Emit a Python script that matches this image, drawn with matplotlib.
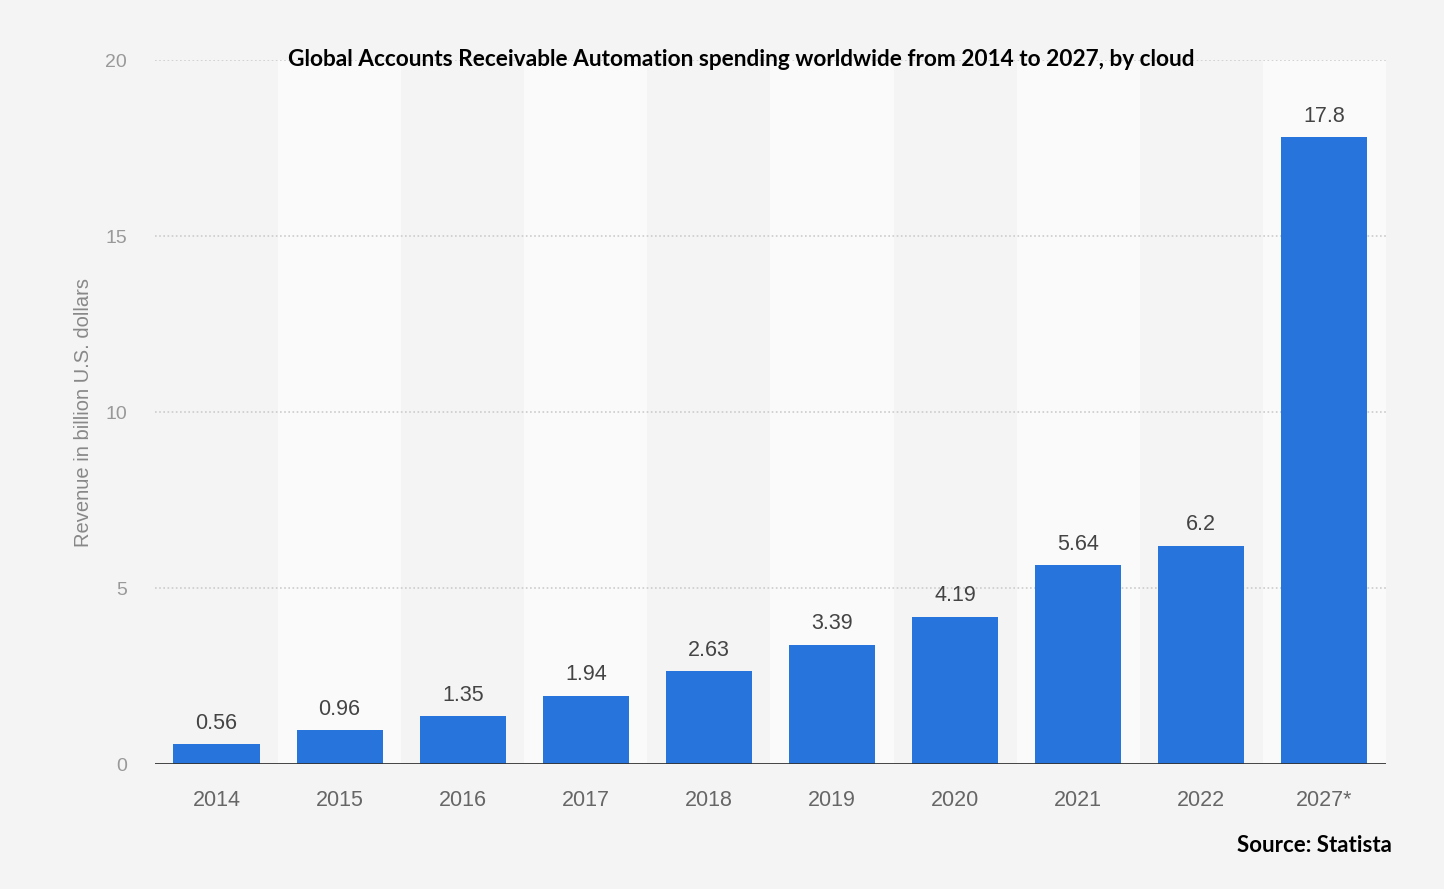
import matplotlib
matplotlib.use("Agg")
import matplotlib.pyplot as plt

# data
years = ["2014", "2015", "2016", "2017", "2018", "2019", "2020", "2021", "2022", "2027*"]
revenue = [0.56, 0.96, 1.35, 1.94, 2.63, 3.39, 4.19, 5.64, 6.2, 17.8]
value_labels = ["0.56", "0.96", "1.35", "1.94", "2.63", "3.39", "4.19", "5.64", "6.2", "17.8"]
y_ticks = [0, 5, 10, 15, 20]

bg = "#f4f4f4"
bar_color = "#2774dc"

fig = plt.figure(figsize=(14.44, 8.89), dpi=100, facecolor=bg)
ax = fig.add_axes([0.1073, 0.1406, 0.8525, 0.7919])
ax.set_facecolor(bg)

x = list(range(len(years)))

# alternating column bands
for i in x:
    if i % 2 == 1:
        ax.axvspan(i - 0.5, i + 0.5, color="#fafafa", zorder=0, lw=0)

ax.set_xlim(-0.5, len(years) - 0.5)
ax.set_ylim(0, 20)

for yv in y_ticks[1:]:
    ax.axhline(yv, color="#cccccc", lw=1.2, ls=(0, (1, 1.5)), zorder=1)

bars = ax.bar(x, revenue, width=0.7, color=bar_color, zorder=2)
for xi, v, lab in zip(x, revenue, value_labels):
    ax.text(xi, v + 0.3, lab, ha="center", va="bottom", fontsize=15.5,
            color="#444444", family="Liberation Sans")

ax.axhline(0, color="#333333", lw=2, zorder=3)

ax.set_xticks(x)
ax.set_xticklabels(years, fontsize=15.5, color="#666666", family="Liberation Sans")
ax.set_yticks(y_ticks)
ax.set_yticklabels([str(t) for t in y_ticks], fontsize=14, color="#999999", family="Liberation Sans")
ax.tick_params(axis="both", length=0)
ax.tick_params(axis="x", pad=19)
ax.tick_params(axis="y", pad=20)
for s in ax.spines.values():
    s.set_visible(False)

ax.set_ylabel("Revenue in billion U.S. dollars", fontsize=14.5, color="#888888",
              family="Liberation Sans", labelpad=9)

fig.text(0.513, 0.933, "Global Accounts Receivable Automation spending worldwide from 2014 to 2027, by cloud",
         ha="center", va="center", fontsize=16.3, fontweight="bold", family="Lato", color="black")
fig.text(0.964, 0.049, "Source: Statista", ha="right", va="center", fontsize=16,
         fontweight="bold", family="Lato", color="black")

fig.savefig("out.png", dpi=100, facecolor=bg)
